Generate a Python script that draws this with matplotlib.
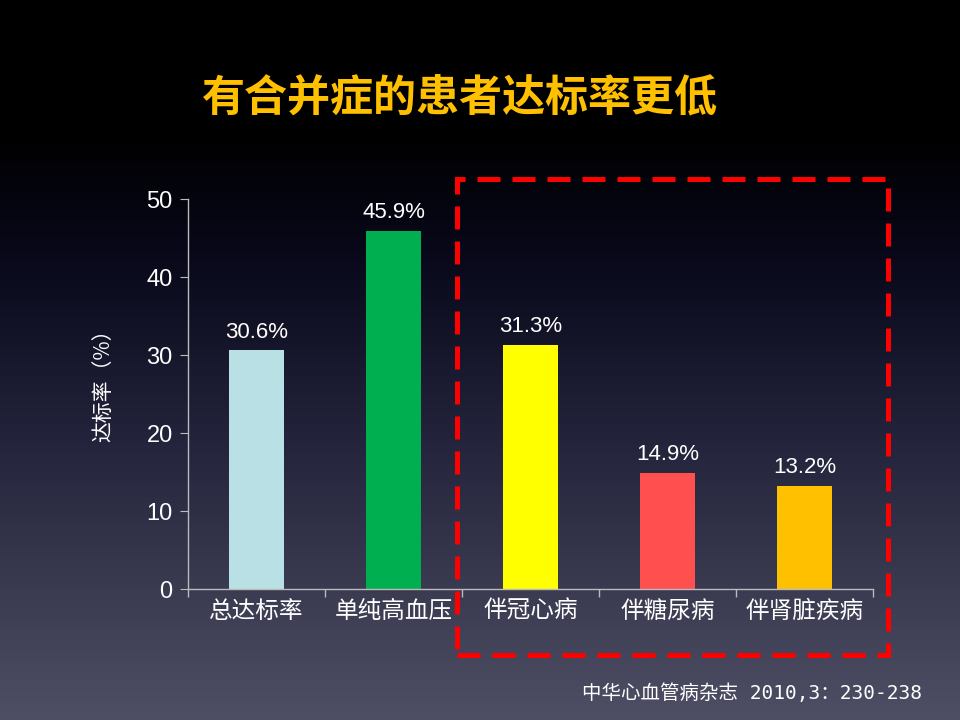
import numpy as np
import matplotlib
matplotlib.use("Agg")
import matplotlib.pyplot as plt
from matplotlib.colors import LinearSegmentedColormap
from matplotlib.patches import Rectangle

categories = ['总达标率', '单纯高血压', '伴冠心病', '伴糖尿病', '伴肾脏疾病']
values = [30.6, 45.9, 31.3, 14.9, 13.2]
labels = ['30.6%', '45.9%', '31.3%', '14.9%', '13.2%']
colors = ['#b9e0e4', '#00b050', '#ffff00', '#ff4f4f', '#ffc000']
yticks = [0, 10, 20, 30, 40, 50]

plt.rcParams['font.family'] = ['Liberation Sans', 'Noto Sans CJK SC', 'DejaVu Sans']

fig = plt.figure(figsize=(9.6, 7.2), dpi=100)

# background gradient
bg = fig.add_axes([0, 0, 1, 1])
cmap = LinearSegmentedColormap.from_list('bg', [(0, '#000000'), (0.18, '#000000'),
                                                (0.35, '#08081a'), (0.6, '#22223a'),
                                                (1, '#4e4e64')])
grad = np.linspace(0, 1, 256).reshape(-1, 1)
bg.imshow(grad, cmap=cmap, aspect='auto', extent=[0, 1, 1, 0])
bg.set_axis_off()

ax = fig.add_axes([188/960, 1-589/720, (873-188)/960, (589-199)/720])
ax.patch.set_alpha(0)
x = np.arange(len(categories))
ax.bar(x, values, width=0.4, color=colors, zorder=2)
for xi, v, lab in zip(x, values, labels):
    ax.text(xi, v + 1.0, lab, ha='center', va='bottom', color='white', fontsize=16)

ax.set_xlim(-0.5, 4.5)
ax.set_ylim(0, 50)
ax.set_yticks(yticks)
ax.set_xticks(x)
ax.set_xticklabels(categories, fontsize=17, color='white', family=['Noto Sans CJK SC'])
ax.set_xticks(np.arange(-0.5, 5, 1), minor=True)
ax.tick_params(axis='x', which='major', length=0, pad=8)
ax.tick_params(axis='x', which='minor', length=6, color='#bbbbbb', width=1)
ax.tick_params(axis='y', length=6, color='#bbbbbb', labelsize=17, labelcolor='white', pad=5)
for s in ['top', 'right']:
    ax.spines[s].set_visible(False)
for s in ['left', 'bottom']:
    ax.spines[s].set_color('#bbbbbb')
    ax.spines[s].set_linewidth(1)
ax.set_ylabel('达标率（%）', color='white', fontsize=15, family=['Noto Sans CJK SC'])
ax.yaxis.set_label_coords(-0.108, 0.535)

fig.text(0.479, 0.865, '有合并症的患者达标率更低', ha='center', va='center',
         color='#ffc000', fontsize=31, fontweight='bold', family=['Noto Sans CJK SC'])

fig.text(582/960, 1-693/720, '中华心血管病杂志 2010,3：230-238', ha='left', va='center',
         color='white', fontsize=14, family=['DejaVu Sans Mono', 'Noto Sans CJK SC'])

rect = Rectangle((457/960, 1-655/720), (888-457)/960, (655-179)/720,
                 transform=fig.transFigure, fill=False, edgecolor='#ff0000',
                 linewidth=3.6, linestyle=(0, (4.6, 2.4)), zorder=10)
fig.patches.append(rect)

fig.savefig('out.png', dpi=100)
